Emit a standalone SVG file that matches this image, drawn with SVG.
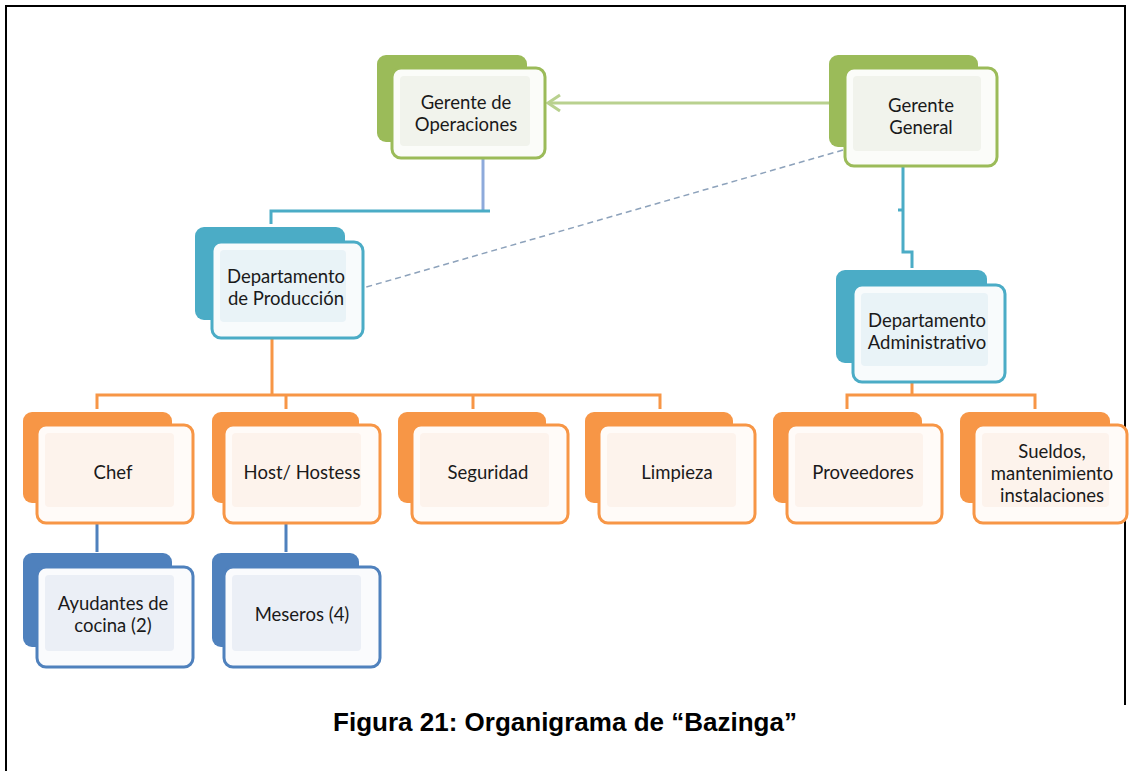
<svg xmlns="http://www.w3.org/2000/svg" width="1130" height="771" viewBox="0 0 1130 771">
<style>
.t{font-family:Lato,"Open Sans","Liberation Sans",sans-serif;font-size:18.5px;fill:#1a1a1a;text-anchor:middle}
.cap{font-family:"Liberation Sans",Arial,sans-serif;font-size:26px;font-weight:bold;fill:#000;text-anchor:middle}
.gb{fill:#9bbb59}.gf{fill:#fbfcf9;stroke:#9bbb59;stroke-width:3}.gi{fill:#f1f3ec}
.tb{fill:#4bacc6}.tf{fill:#f8fbfc;stroke:#4bacc6;stroke-width:3}.ti{fill:#e9f3f7}
.ob{fill:#f79646}.of{fill:#fffbf8;stroke:#f79646;stroke-width:3}.oi{fill:#fdf3ec}
.bb{fill:#4f81bd}.bf{fill:#fafbfd;stroke:#4f81bd;stroke-width:3}.bi{fill:#ebeff6}
.c{fill:none;stroke-width:3}
</style>
<rect x="0" y="0" width="1130" height="771" fill="#fff"/>
<path d="M6 771V6H1125V705" fill="none" stroke="#000" stroke-width="2"/>
<g id="connectors">
<line x1="843" y1="103" x2="548" y2="103" class="c" stroke="#b9d18f"/>
<path d="M560 95L548 103L560 111" class="c" stroke="#b9d18f"/>
<line x1="843" y1="150" x2="363" y2="288" stroke="#8da2bb" stroke-width="1.5" stroke-dasharray="6 4"/>
<path d="M483 158V211" class="c" stroke="#8eaadb"/>
<path d="M490 211H271V224" class="c" stroke="#4bacc6"/>
<path d="M903 166V252H912V268" class="c" stroke="#4bacc6"/>
<path d="M898 210H903" class="c" stroke="#4bacc6"/>
<path d="M272 339V395M97 409V395H660V409M286 395V409M473 395V409" class="c" stroke="#f79646"/>
<path d="M912 383V395M847 409V395H1035V409" class="c" stroke="#f79646"/>
<path d="M97 524V552M286 524V552" class="c" stroke="#4f81bd"/>
</g>
<g id="gerente-operaciones">
<rect x="377" y="55" width="150" height="87" rx="9" class="gb"/>
<rect x="392" y="68" width="153" height="90" rx="9" class="gf"/>
<rect x="400" y="76" width="130" height="70" rx="4" class="gi"/>
<text class="t" x="466" y="109">Gerente de</text>
<text class="t" x="466" y="131">Operaciones</text>
</g>
<g id="gerente-general">
<rect x="829" y="55" width="149" height="92" rx="9" class="gb"/>
<rect x="845" y="68" width="152" height="98" rx="9" class="gf"/>
<rect x="853" y="76" width="128" height="75" rx="4" class="gi"/>
<text class="t" x="921" y="112">Gerente</text>
<text class="t" x="921" y="134">General</text>
</g>
<g id="depto-produccion">
<rect x="195" y="227" width="150" height="93" rx="9" class="tb"/>
<rect x="212" y="242" width="151" height="96" rx="9" class="tf"/>
<rect x="220" y="250" width="126" height="72" rx="4" class="ti"/>
<text class="t" x="286" y="283">Departamento</text>
<text class="t" x="286" y="305">de Producción</text>
</g>
<g id="depto-administrativo">
<rect x="836" y="270" width="151" height="93" rx="9" class="tb"/>
<rect x="853" y="285" width="152" height="97" rx="9" class="tf"/>
<rect x="861" y="293" width="127" height="73" rx="4" class="ti"/>
<text class="t" x="927" y="327">Departamento</text>
<text class="t" x="927" y="349">Administrativo</text>
</g>
<g id="chef">
<rect x="23" y="412" width="149" height="91" rx="9" class="ob"/>
<rect x="37" y="425" width="156" height="98" rx="9" class="of"/>
<rect x="45" y="433" width="129" height="74" rx="4" class="oi"/>
<text class="t" x="113" y="479">Chef</text>
</g>
<g id="host-hostess">
<rect x="212" y="412" width="147" height="91" rx="9" class="ob"/>
<rect x="224" y="425" width="156" height="98" rx="9" class="of"/>
<rect x="232" y="433" width="129" height="74" rx="4" class="oi"/>
<text class="t" x="302" y="479">Host/ Hostess</text>
</g>
<g id="seguridad">
<rect x="398" y="412" width="148" height="91" rx="9" class="ob"/>
<rect x="412" y="425" width="156" height="98" rx="9" class="of"/>
<rect x="420" y="433" width="129" height="74" rx="4" class="oi"/>
<text class="t" x="488" y="479">Seguridad</text>
</g>
<g id="limpieza">
<rect x="585" y="412" width="148" height="91" rx="9" class="ob"/>
<rect x="599" y="425" width="156" height="98" rx="9" class="of"/>
<rect x="607" y="433" width="129" height="74" rx="4" class="oi"/>
<text class="t" x="677" y="479">Limpieza</text>
</g>
<g id="proveedores">
<rect x="773" y="412" width="149" height="91" rx="9" class="ob"/>
<rect x="787" y="425" width="155" height="98" rx="9" class="of"/>
<rect x="795" y="433" width="128" height="74" rx="4" class="oi"/>
<text class="t" x="863" y="479">Proveedores</text>
</g>
<g id="sueldos">
<rect x="960" y="412" width="150" height="91" rx="9" class="ob"/>
<rect x="974" y="425" width="153" height="98" rx="9" class="of"/>
<rect x="982" y="433" width="127" height="74" rx="4" class="oi"/>
<text class="t" x="1052" y="458">Sueldos,</text>
<text class="t" x="1052" y="480">mantenimiento</text>
<text class="t" x="1052" y="502">instalaciones</text>
</g>
<g id="ayudantes">
<rect x="23" y="553" width="149" height="94" rx="9" class="bb"/>
<rect x="37" y="567" width="156" height="100" rx="9" class="bf"/>
<rect x="45" y="575" width="129" height="76" rx="4" class="bi"/>
<text class="t" x="113" y="610">Ayudantes de</text>
<text class="t" x="113" y="632">cocina (2)</text>
</g>
<g id="meseros">
<rect x="212" y="553" width="147" height="94" rx="9" class="bb"/>
<rect x="224" y="567" width="156" height="100" rx="9" class="bf"/>
<rect x="232" y="575" width="129" height="76" rx="4" class="bi"/>
<text class="t" x="302" y="621">Meseros (4)</text>
</g>
<text class="cap" x="565" y="731">Figura 21: Organigrama de “Bazinga”</text>
</svg>
